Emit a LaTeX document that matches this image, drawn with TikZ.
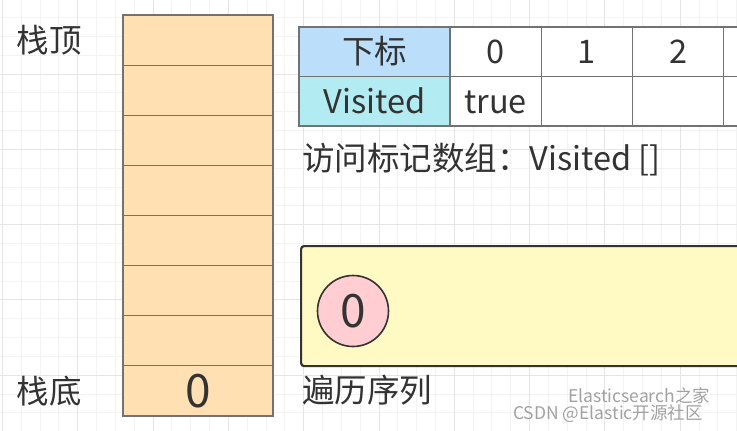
\documentclass[tikz,border=0pt]{standalone}
\usepackage{fontspec}
\setmainfont{Noto Sans CJK SC}
\usetikzlibrary{positioning}
\definecolor{ink}{HTML}{333333}
\definecolor{edge}{HTML}{727272}
\definecolor{stackfill}{HTML}{FFE0B2}
\definecolor{headblue}{HTML}{BBDEFB}
\definecolor{headcyan}{HTML}{B2EBF2}
\definecolor{seqfill}{HTML}{FFF9C4}
\definecolor{visitfill}{HTML}{FFCDD2}
\definecolor{gridlo}{HTML}{F3F3F3}
\definecolor{gridhi}{HTML}{E5E5E5}
\definecolor{wmgray}{HTML}{A2A2A2}

\begin{document}
\begin{tikzpicture}[
  x=1pt, y=-1pt,
  font=\fontsize{32.5}{38}\selectfont, text=ink,
  big/.style={font=\fontsize{46}{50}\selectfont},
  cell/.style={draw=edge, line width=1.1pt, fill=stackfill, outer sep=0pt, inner sep=0pt, minimum width=150pt, minimum height=50.1pt, anchor=north west},
  tab/.style={draw=edge, line width=1.1pt, fill=white, outer sep=0pt, inner sep=0pt, minimum width=91.3pt, minimum height=49.5pt, text height=27pt, text depth=3.4pt},
  head/.style={tab, minimum width=151pt},
  label/.style={inner sep=0pt},
  seqbox/.style={draw=ink, line width=2.2pt, fill=seqfill, rounded corners=3pt, minimum width=480pt, minimum height=120pt, anchor=north west},
  visit/.style={circle, draw=ink, line width=1.6pt, fill=visitfill, minimum size=71pt, inner sep=0pt, big},
  wm/.style={inner sep=0pt, text=wmgray, font=\fontsize{17.5}{20}\selectfont, text height=13pt, text depth=2pt}
]
  \useasboundingbox (0,0) rectangle (737,431);
  \clip (0,0) rectangle (737,431);
  \fill[white] (0,0) rectangle (737,431);
  \foreach \k in {0,...,39}
    \draw[gridlo, line width=1pt] (2.4+18.83*\k,0) -- ++(0,431);
  \foreach \k in {0,...,23}
    \draw[gridlo, line width=1pt] (0,-1.3+18.83*\k) -- ++(737,0);
  \foreach \k in {0,...,9}
    \draw[gridhi, line width=1pt] (2.4+75.32*\k,0) -- ++(0,431);
  \foreach \k in {0,...,6}
    \draw[gridhi, line width=1pt] (0,-1.3+75.32*\k) -- ++(737,0);

  \foreach \i in {0,...,6}
    \node[cell] (s\i) at (123,{15+50.125*\i}) {};
  \node[cell, below=0pt of s6, big] (s7) {0};
  \node[label, left=41pt of s0] (toplbl) {栈顶};
  \node[label, left=41pt of s7] (botlbl) {栈底};

  \node[head, fill=headblue, anchor=north west] (hidx) at (299,27) {下标};
  \node[tab, right=0pt of hidx] (i0) {0};
  \node[tab, right=0pt of i0] (i1) {1};
  \node[tab, right=0pt of i1] (i2) {2};
  \node[tab, right=0pt of i2] (i3) {};
  \node[head, fill=headcyan, below=0pt of hidx] (hvis) {Visited};
  \node[tab, right=0pt of hvis] (v0) {true};
  \node[tab, right=0pt of v0] (v1) {};
  \node[tab, right=0pt of v1] (v2) {};
  \node[tab, right=0pt of v2] (v3) {};
  \node[label, anchor=west] (vcap) at (302,160) {访问标记数组：Visited []};

  \node[seqbox] (seq) at (300,245) {};
  \node[visit] (q0) at (353,311) {0};
  \node[label, anchor=west] (seqcap) at (302,390) {遍历序列};

  \node[wm, anchor=west] (wm1) at (568,397) {Elasticsearch之家};
  \node[wm, anchor=west] (wm2) at (513,414) {CSDN @Elastic开源社区};
\end{tikzpicture}
\end{document}
